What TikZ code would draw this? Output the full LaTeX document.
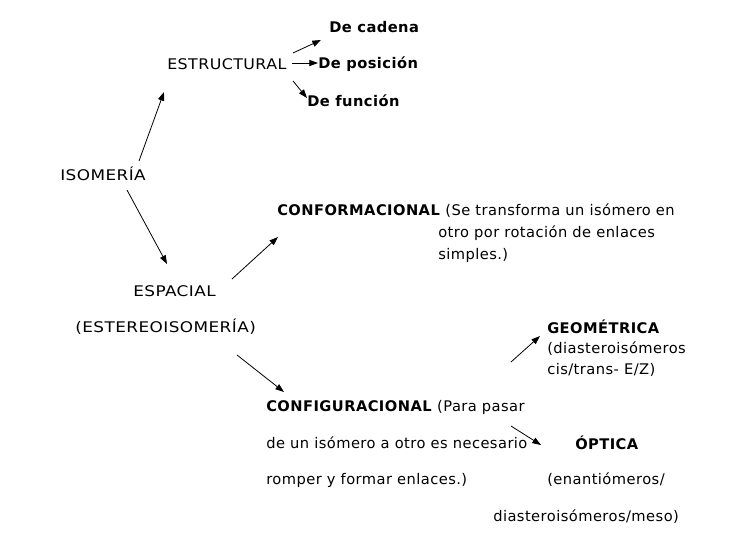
\documentclass[tikz,border=0pt]{standalone}
\usepackage{fontspec}
\setmainfont[LetterSpace=3]{DejaVu Sans}
\newfontfamily\capsf[LetterSpace=3,FakeStretch=1.15]{DejaVu Sans}
\newfontfamily\capsg[LetterSpace=3,FakeStretch=1.08]{DejaVu Sans}
\usetikzlibrary{arrows.meta}
\begin{document}
\begin{tikzpicture}[x=0.75pt,y=-0.75pt,
  txt/.style={anchor=west,inner sep=0pt,font=\fontsize{11}{13}\selectfont},
  bold/.style={txt,font=\fontsize{11}{13}\selectfont\bfseries},
  caps/.style={txt,font=\fontsize{11}{13}\selectfont\capsf},
  arr/.style={-{Triangle[length=6.5pt,width=4.6pt]},line width=0.6pt}]
\useasboundingbox (0,0) rectangle (753,539);
% nodes
\node[bold] (cad) at (329,27) {De cadena};
\node[txt,font=\fontsize{11}{13}\selectfont\capsg] (estr) at (167,64) {ESTRUCTURAL};
\node[bold] (pos) at (318,64) {De posición};
\node[bold] (fun) at (307,101) {De función};
\node[caps] (iso) at (60,174) {ISOMERÍA};
\node[txt] (conf) at (277,211) {\textbf{CONFORMACIONAL} (Se transforma un isómero en};
\node[txt] (conf2) at (438,233) {otro por rotación de enlaces};
\node[txt] (conf3) at (438,255) {simples.)};
\node[caps] (esp) at (133,291) {ESPACIAL};
\node[caps] (ester) at (75,327) {(ESTEREOISOMERÍA)};
\node[bold] (geo) at (547,327) {GEOMÉTRICA};
\node[txt] (geo2) at (547,349) {(diasteroisómeros};
\node[txt] (geo3) at (547,370) {cis/trans- E/Z)};
\node[txt] (cfg) at (266,407) {\textbf{CONFIGURACIONAL} (Para pasar};
\node[txt] (cfg2) at (266,443) {de un isómero a otro es necesario};
\node[bold] (opt) at (575,443) {ÓPTICA};
\node[txt] (cfg3) at (266,480) {romper y formar enlaces.)};
\node[txt] (opt2) at (547,480) {(enantiómeros/};
\node[txt] (opt3) at (493,517) {diasteroisómeros/meso)};
% arrow end points
\coordinate (a1s) at (139,161); \coordinate (a1e) at (164,92);
\coordinate (a2s) at (127,190); \coordinate (a2e) at (167,264);
\coordinate (a3s) at (232,279); \coordinate (a3e) at (278,237);
\coordinate (a4s) at (293,53);  \coordinate (a4e) at (321,40);
\coordinate (a5s) at (292,63);  \coordinate (a5e) at (318,63);
\coordinate (a6s) at (293,81);  \coordinate (a6e) at (307,98);
\coordinate (a7s) at (237,355); \coordinate (a7e) at (284,392);
\coordinate (a8s) at (511,362); \coordinate (a8e) at (540,336);
\coordinate (a9s) at (511,426); \coordinate (a9e) at (541,445);
\foreach \i in {1,...,9} {\draw[arr] (a\i s) -- (a\i e);}
\end{tikzpicture}
\end{document}
